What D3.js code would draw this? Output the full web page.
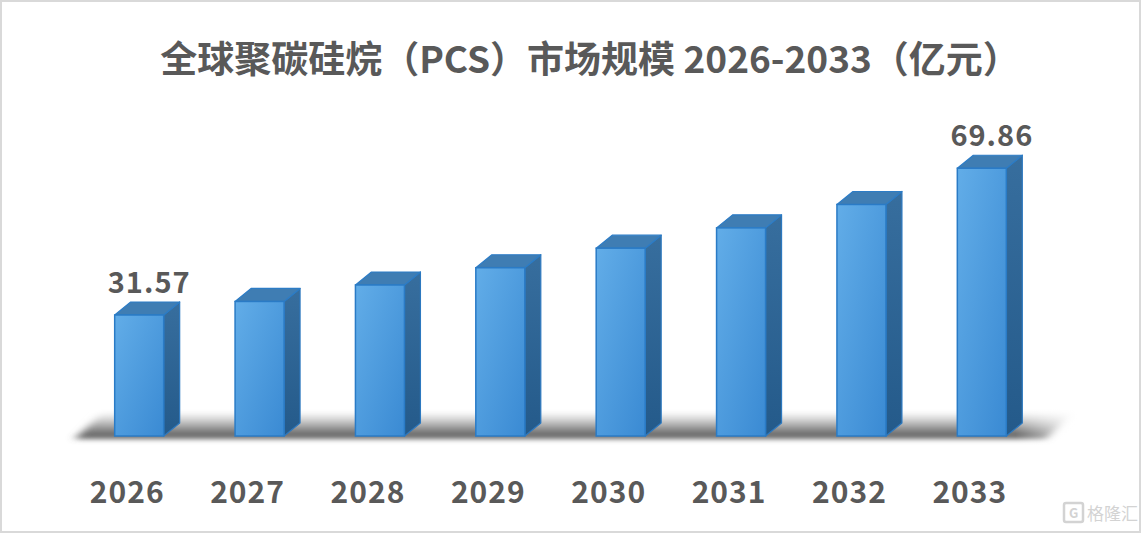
<!DOCTYPE html>
<html>
<head>
<meta charset="utf-8">
<script src="https://cdn.jsdelivr.net/npm/d3@7/dist/d3.min.js"></script>
<style>
  body { margin: 0; background: #fff; }
  svg { display: block; }
  text { font-family: "Noto Sans CJK SC", "Noto Sans", sans-serif; font-weight: bold; fill: #595959; }
</style>
</head>
<body>
<svg id="chart" width="1141" height="533"></svg>
<script>
// data
const years = ['2026', '2027', '2028', '2029', '2030', '2031', '2032', '2033'];
const values = [31.57, 35.1, 39.4, 43.9, 49.0, 54.3, 60.4, 69.86];
const labelled = ['2026', '2033'];
const title = '全球聚碳硅烷（PCS）市场规模 2026-2033（亿元）';

const svg = d3.select('#chart');
const W = +svg.attr('width'), H = +svg.attr('height');
const data = years.map((y, i) => ({year: y, value: values[i]}));

const depthX = 16, depthY = -13;

const x = d3.scaleBand().domain(years)
    .range([79, 1042])
    .paddingInner(0.593)
    .paddingOuter(0.2965);
const y = d3.scaleLinear().domain([0, 70]).range([436, 436 - 70 * 3.833]);

// defs ---------------------------------------------------------------------
const defs = svg.append('defs');
const front = defs.append('linearGradient').attr('id', 'front')
    .attr('x1', '0').attr('y1', '0').attr('x2', '1').attr('y2', '1');
front.append('stop').attr('offset', '0').attr('stop-color', '#62ADE8');
front.append('stop').attr('offset', '1').attr('stop-color', '#3A8AD3');

const side = defs.append('linearGradient').attr('id', 'side')
    .attr('x1', '0').attr('y1', '0').attr('x2', '0').attr('y2', '1');
side.append('stop').attr('offset', '0').attr('stop-color', '#376E9E');
side.append('stop').attr('offset', '1').attr('stop-color', '#245A8A');

const floor = defs.append('linearGradient').attr('id', 'floor')
    .attr('x1', '0').attr('y1', '0').attr('x2', '0').attr('y2', '1');
floor.append('stop').attr('offset', '0').attr('stop-color', '#ffffff');
floor.append('stop').attr('offset', '0.3').attr('stop-color', '#d0d0d0');
floor.append('stop').attr('offset', '0.75').attr('stop-color', '#777777');
floor.append('stop').attr('offset', '1').attr('stop-color', '#5e5e5e');

const fade = defs.append('linearGradient').attr('id', 'fade')
    .attr('x1', '0').attr('y1', '0').attr('x2', '1').attr('y2', '0');
fade.append('stop').attr('offset', '0').attr('stop-color', '#fff').attr('stop-opacity', 0);
fade.append('stop').attr('offset', '0.93').attr('stop-color', '#fff').attr('stop-opacity', 0);
fade.append('stop').attr('offset', '1').attr('stop-color', '#fff').attr('stop-opacity', 1);

defs.append('filter').attr('id', 'blur')
    .attr('x', '-10%').attr('y', '-50%').attr('width', '120%').attr('height', '200%')
    .append('feGaussianBlur').attr('stdDeviation', '5 2.5');

// border
svg.append('rect').attr('x', 1).attr('y', 1).attr('width', W - 2).attr('height', H - 2)
    .attr('fill', '#fff').attr('stroke', '#d9d9d9').attr('stroke-width', 2);

// title
svg.append('text').attr('x', 590).attr('y', 73)
    .attr('text-anchor', 'middle').attr('font-size', 37)
    .text(title);

// floor shadow -------------------------------------------------------------
const base = y(0);
const left = x(years[0]) - 40, right = x(years[years.length - 1]) + x.bandwidth() + 40;
svg.append('path')
    .attr('d', `M${left},${base + 3} L${right},${base + 3} L${right + 28},${base - 24} L${left + 28},${base - 24} Z`)
    .attr('fill', 'url(#floor)')
    .attr('filter', 'url(#blur)');
svg.append('rect')
    .attr('x', left).attr('y', base - 30).attr('width', right - left + 40).attr('height', 40)
    .attr('fill', 'url(#fade)');

// bars ---------------------------------------------------------------------
const bars = svg.append('g').selectAll('g').data(data).join('g');
const bw = x.bandwidth();

bars.append('path') // side
    .attr('d', (d) => {
        const x1 = x(d.year) + bw, y0 = y(d.value);
        return `M${x1},${y0} L${x1 + depthX},${y0 + depthY} L${x1 + depthX},${base + depthY} L${x1},${base} Z`;
    })
    .attr('fill', 'url(#side)')
    .attr('stroke', '#2C78BF').attr('stroke-width', 1.2).attr('stroke-linejoin', 'round');

bars.append('path') // top
    .attr('d', (d) => {
        const x0 = x(d.year), y0 = y(d.value);
        return `M${x0},${y0} L${x0 + depthX},${y0 + depthY} L${x0 + bw + depthX},${y0 + depthY} L${x0 + bw},${y0} Z`;
    })
    .attr('fill', '#3F7DB3')
    .attr('stroke', '#2C7CC6').attr('stroke-width', 1.2).attr('stroke-linejoin', 'round');

bars.append('rect') // front
    .attr('x', (d) => x(d.year))
    .attr('y', (d) => y(d.value))
    .attr('width', bw)
    .attr('height', (d) => base - y(d.value))
    .attr('fill', 'url(#front)')
    .attr('stroke', '#2A7BC6').attr('stroke-width', 1.5);

// value labels (first and last only)
svg.append('g').selectAll('text').data(data.filter((d) => labelled.indexOf(d.year) >= 0)).join('text')
    .attr('x', (d) => x(d.year) + bw / 2 + depthX / 2 + 2)
    .attr('y', (d) => y(d.value) + depthY - 9)
    .attr('text-anchor', 'middle').attr('font-size', 29)
    .attr('letter-spacing', 1)
    .text((d) => d.value.toFixed(2));

// x axis labels
svg.append('g').selectAll('text').data(years).join('text')
    .attr('x', (d) => x(d) + bw / 2 - 12)
    .attr('y', 503)
    .attr('text-anchor', 'middle').attr('font-size', 30)
    .attr('letter-spacing', 1)
    .text((d) => d);

// watermark
const wm = svg.append('g').attr('transform', 'translate(1064,500)');
wm.append('rect').attr('x', 0).attr('y', 3).attr('width', 19).attr('height', 19).attr('rx', 2)
    .attr('fill', 'none').attr('stroke', '#d3d3d3').attr('stroke-width', 2.5);
wm.append('text').attr('x', 5).attr('y', 18).attr('font-size', 13)
    .style('fill', '#d3d3d3')
    .text('G');
wm.append('text').attr('x', 23).attr('y', 20).attr('font-size', 17)
    .style('fill', '#d3d3d3').style('font-weight', 'normal')
    .text('格隆汇');
</script>
</body>
</html>
